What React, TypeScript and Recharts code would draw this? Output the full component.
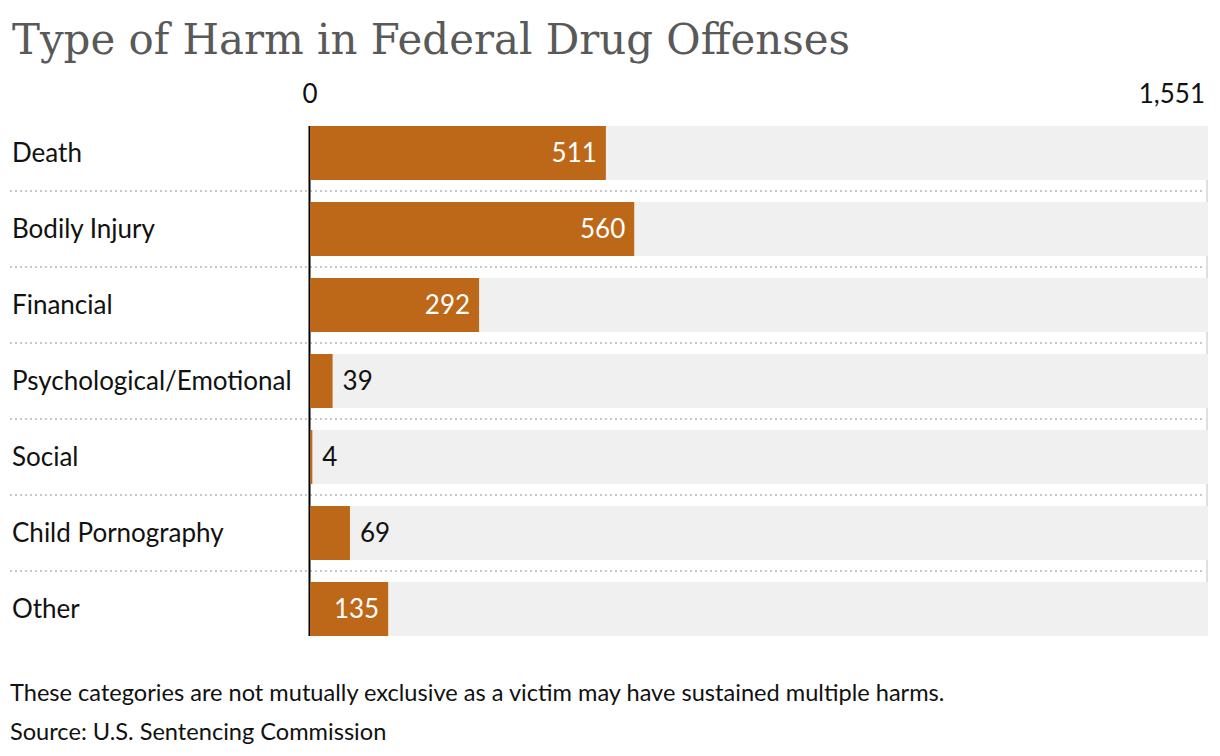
import { BarChart, Bar, XAxis, YAxis, CartesianGrid, LabelList } from 'recharts';

// values
const categories = [
  'Death',
  'Bodily Injury',
  'Financial',
  'Psychological/Emotional',
  'Social',
  'Child Pornography',
  'Other',
];
const counts = [511, 560, 292, 39, 4, 69, 135];
const axisMax = 1551;
const axisTicks = [0, 1551];

const data = categories.map((name, i) => ({ name, value: counts[i] }));

const BAR = '#bd6719';
const FONT = 'Lato, "Noto Sans", sans-serif';

function fmt(n: number) {
  return n.toLocaleString('en-US');
}

function TopTick(props: any) {
  const { x, y, payload } = props;
  const last = payload.value === axisMax;
  return (
    <text
      x={last ? x + 1 : x}
      y={y}
      dy={-4}
      textAnchor={last ? 'end' : 'middle'}
      fontFamily={FONT}
      fontSize={26}
      fill="#111"
    >
      {fmt(payload.value)}
    </text>
  );
}

function CatTick(props: any) {
  const { y, payload } = props;
  return (
    <text x={12} y={y} dy={9} textAnchor="start" fontFamily={FONT} fontSize={26} fill="#111">
      {payload.value}
    </text>
  );
}

function ValueLabel(props: any) {
  const { x, y, width, height, value } = props;
  const inside = width > 60;
  return (
    <text
      x={inside ? x + width - 9 : x + width + 10}
      y={y + height / 2}
      dy={9}
      textAnchor={inside ? 'end' : 'start'}
      fontFamily={FONT}
      fontSize={26}
      fill={inside ? '#fff' : '#111'}
    >
      {fmt(value)}
    </text>
  );
}

// vertical rule only over the bar span (top of first bar to bottom of last)
const ruleY = 126;
const ruleH = 510;

export default function App() {
  return (
    <div style={{ position: 'absolute', left: 0, top: 0, width: 1220, height: 756, background: '#fff' }}>
      <svg width={1220} height={80} style={{ position: 'absolute', left: 0, top: 0 }}>
        <text
          x={12}
          y={54}
          fontFamily='"DejaVu Serif", serif'
          fontSize={42}
          fill="#595959"
          textLength={838}
          lengthAdjust="spacingAndGlyphs"
        >
          Type of Harm in Federal Drug Offenses
        </text>
      </svg>

      <div style={{ position: 'absolute', left: 0, top: 0 }}>
        <BarChart
          width={1220}
          height={756}
          data={data}
          layout="vertical"
          margin={{ top: 85, right: 12, bottom: 109, left: 0 }}
        >
          <CartesianGrid
            vertical={false}
            x={10}
            width={1194}
            stroke="#c8c8c8"
            strokeWidth={2}
            strokeDasharray="2 3"
            horizontalCoordinatesGenerator={(p: any) => {
              const top = p.offset ? p.offset.top : 115;
              const h = p.offset ? p.offset.height : 532;
              const step = h / categories.length;
              return categories.slice(1).map((_, i) => top + step * (i + 1));
            }}
          />
          <CartesianGrid
            horizontal={false}
            y={ruleY}
            height={ruleH}
            stroke="#e0e0e0"
            strokeWidth={2}
            verticalCoordinatesGenerator={(p: any) => {
              const left = p.offset ? p.offset.left : 310;
              const w = p.offset ? p.offset.width : 898;
              return [left + w - 1];
            }}
          />
          <XAxis
            type="number"
            orientation="top"
            domain={[0, axisMax]}
            ticks={axisTicks}
            height={30}
            axisLine={false}
            tickLine={false}
            tick={<TopTick />}
          />
          <YAxis
            type="category"
            dataKey="name"
            width={310}
            axisLine={false}
            tickLine={false}
            tick={<CatTick />}
          />
          <CartesianGrid
            horizontal={false}
            y={ruleY}
            height={ruleH}
            stroke="#000"
            strokeWidth={2}
            verticalCoordinatesGenerator={(p: any) => {
              const left = p.offset ? p.offset.left : 310;
              return [left - 0.5];
            }}
          />
          <Bar
            dataKey="value"
            fill={BAR}
            barSize={54}
            background={{ fill: '#f0f0f0' }}
            isAnimationActive={false}
          >
            <LabelList dataKey="value" content={<ValueLabel />} />
          </Bar>
        </BarChart>
      </div>

      <div
        style={{
          position: 'absolute',
          left: 10,
          top: 673,
          fontFamily: FONT,
          fontSize: 23.6,
          color: '#111',
          lineHeight: '39px',
          whiteSpace: 'nowrap',
        }}
      >
        <div>These categories are not mutually exclusive as a victim may have sustained multiple harms.</div>
        <div>Source: U.S. Sentencing Commission</div>
      </div>
    </div>
  );
}
